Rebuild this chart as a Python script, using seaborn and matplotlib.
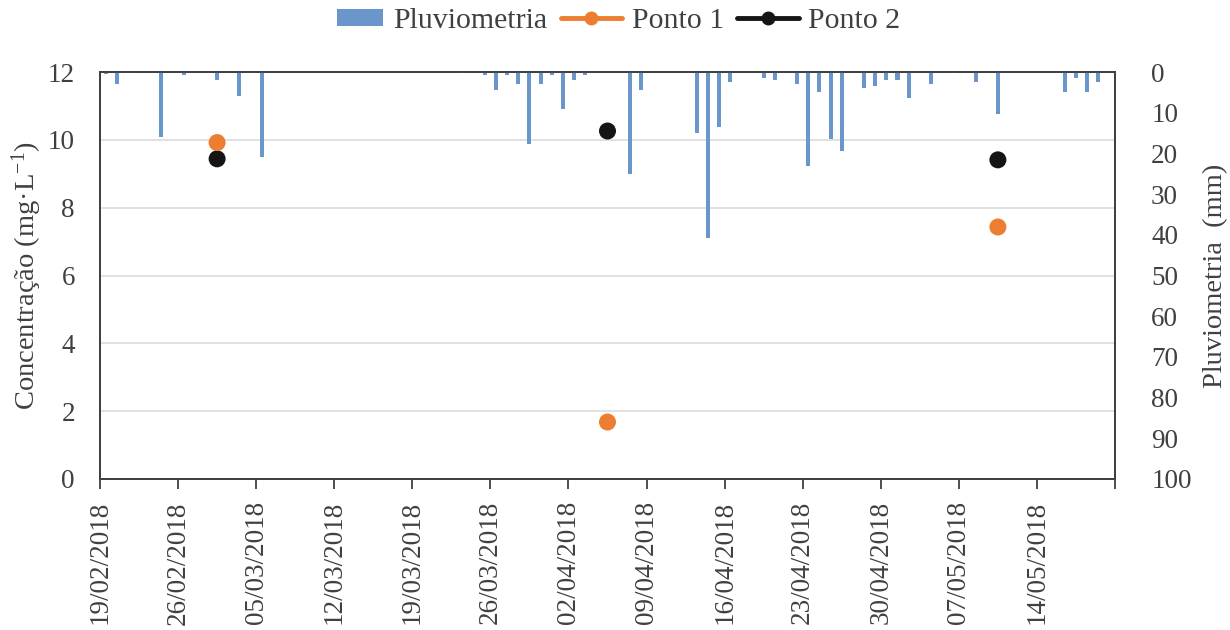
import matplotlib
matplotlib.use("Agg")
import matplotlib.pyplot as plt
from matplotlib.patches import Patch, Rectangle
from matplotlib.lines import Line2D
from matplotlib.legend_handler import HandlerPatch
import seaborn as sns
import pandas as pd

# ---------------- data ----------------
rain_dates = ["19/02/2018", "20/02/2018", "21/02/2018", "24/02/2018", "26/02/2018",
              "01/03/2018", "03/03/2018", "04/03/2018", "05/03/2018", "23/03/2018",
              "25/03/2018", "26/03/2018", "27/03/2018", "28/03/2018", "29/03/2018",
              "30/03/2018", "31/03/2018", "01/04/2018", "02/04/2018", "03/04/2018",
              "07/04/2018", "08/04/2018", "13/04/2018", "14/04/2018", "15/04/2018",
              "16/04/2018", "19/04/2018", "20/04/2018", "22/04/2018", "23/04/2018",
              "24/04/2018", "25/04/2018", "26/04/2018", "28/04/2018", "29/04/2018",
              "30/04/2018", "01/05/2018", "02/05/2018", "04/05/2018", "06/05/2018",
              "08/05/2018", "10/05/2018", "16/05/2018", "17/05/2018", "18/05/2018",
              "19/05/2018"]
rain_mm = [0.5, 3.0, 0.3, 15.9, 0.7,
           2.0, 5.8, 0.2, 20.8, 0.3,
           0.8, 4.4, 0.8, 2.9, 17.8,
           2.9, 0.8, 9.2, 2.0, 0.8,
           25.1, 4.4, 14.9, 40.9, 13.6,
           2.5, 1.5, 2.0, 2.9, 23.1,
           5.0, 16.5, 19.3, 4.0, 3.4,
           2.0, 2.0, 6.3, 2.9, 0.3,
           2.5, 10.2, 5.0, 1.5, 5.0,
           2.5]

sample_dates = ["01/03/2018", "05/04/2018", "10/05/2018"]
ponto1 = [9.92, 1.68, 7.43]
ponto2 = [9.44, 10.26, 9.41]

tick_dates = ["19/02/2018", "26/02/2018", "05/03/2018", "12/03/2018", "19/03/2018",
              "26/03/2018", "02/04/2018", "09/04/2018", "16/04/2018", "23/04/2018",
              "30/04/2018", "07/05/2018", "14/05/2018", "21/05/2018"]
x_start = "19/02/2018"
x_end = "21/05/2018"

# ---------------- style ----------------
sns.set_theme(style="white")
plt.rcParams['font.family'] = ['Liberation Serif', 'DejaVu Serif']
plt.rcParams['mathtext.fontset'] = 'custom'
plt.rcParams['mathtext.rm'] = 'Liberation Serif'
plt.rcParams['mathtext.it'] = 'Liberation Serif:italic'

TXT = "#404040"
SPINE = "#404040"
BLUE = "#6B96CC"
ORANGE = "#ED7D31"
BLACK = "#151515"
FS = 19.5
FS_LAB = 20.5
FS_LEG = 21.5

half_day = pd.Timedelta(hours=12)
rain_df = pd.DataFrame({"date": pd.to_datetime(rain_dates, dayfirst=True) + half_day,
                        "mm": rain_mm})
pts = pd.DataFrame({"date": pd.to_datetime(sample_dates, dayfirst=True) + half_day,
                    "Ponto 1": ponto1, "Ponto 2": ponto2})
ticks = pd.to_datetime(tick_dates, dayfirst=True)
xlo = pd.to_datetime(x_start, dayfirst=True)
xhi = pd.to_datetime(x_end, dayfirst=True)

fig = plt.figure(figsize=(12.3, 6.3), dpi=100)
ax = fig.add_axes([100 / 1230, 1 - 479 / 630, (1115 - 100) / 1230, (479 - 72) / 630])

# left axis: concentration, gridlines
ax.set_ylim(0, 12)
ax.set_yticks(range(0, 13, 2))
ax.yaxis.grid(True, color="#D9D9D9", linewidth=1.1)
ax.xaxis.grid(False)
ax.set_xlim(xlo, xhi)
ax.set_xticks(ticks)
labels = [d.strftime("%d/%m/%Y") for d in ticks]
labels[-1] = ""
ax.set_xticklabels(labels, rotation=90)
ax.tick_params(axis="x", length=7, width=1.3, color=SPINE, direction="out",
               pad=9, labelsize=FS, labelcolor=TXT, bottom=True)
ax.tick_params(axis="y", length=0, pad=18, labelsize=FS, labelcolor=TXT)
for s in ax.spines.values():
    s.set_color(SPINE)
    s.set_linewidth(1.3)
ax.set_ylabel("Concentração (mg·L$^{\\mathregular{-1}}$)", fontsize=FS_LAB, color=TXT,
              labelpad=3)

# right axis: rainfall (inverted)
ax2 = ax.twinx()
ax2.bar(rain_df["date"], rain_df["mm"], width=0.36, color=BLUE, linewidth=0)
ax2.set_ylim(100, 0)
ax2.set_yticks(range(0, 101, 10))
ax2.tick_params(axis="y", length=0, pad=26, labelsize=FS, labelcolor=TXT)
ax2.set_ylabel("Pluviometria  (mm)", fontsize=FS_LAB, color=TXT, labelpad=8)
ax2.grid(False)
for s in ax2.spines.values():
    s.set_color(SPINE)
    s.set_linewidth(1.3)

# points on top
ax3 = ax.twinx()
ax3.set_ylim(0, 12)
ax3.set_xlim(xlo, xhi)
sns.scatterplot(data=pts, x="date", y="Ponto 2", ax=ax3, color=BLACK, s=150,
                edgecolor="none", zorder=5)
sns.scatterplot(data=pts, x="date", y="Ponto 1", ax=ax3, color=ORANGE, s=150,
                edgecolor="none", zorder=6)
ax3.set_yticks([])
ax3.set_ylabel("")
ax3.set_xlabel("")
ax3.grid(False)
for s in ax3.spines.values():
    s.set_visible(False)
ax.set_xlabel("")
ax.set_xlim(xlo, xhi)


def narrow_patch(legend, orig_handle, xdescent, ydescent, width, height, fontsize):
    w = width * 0.76
    return Rectangle((width - w - xdescent, -ydescent), w, height)


handles = [Patch(facecolor=BLUE, edgecolor="none", label="Pluviometria"),
           Line2D([0], [0], color=ORANGE, lw=3.5, marker="o", markersize=9, label="Ponto 1"),
           Line2D([0], [0], color=BLACK, lw=3.5, marker="o", markersize=9, label="Ponto 2")]
fig.legend(handles=handles, loc="upper center", bbox_to_anchor=(0.497, 1.03), ncol=3,
           frameon=False, fontsize=FS_LEG, labelcolor=TXT, handlelength=2.05,
           handleheight=0.5, handletextpad=0.33, columnspacing=0.45,
           handler_map={Patch: HandlerPatch(patch_func=narrow_patch)})

fig.savefig("out.png", dpi=100)
